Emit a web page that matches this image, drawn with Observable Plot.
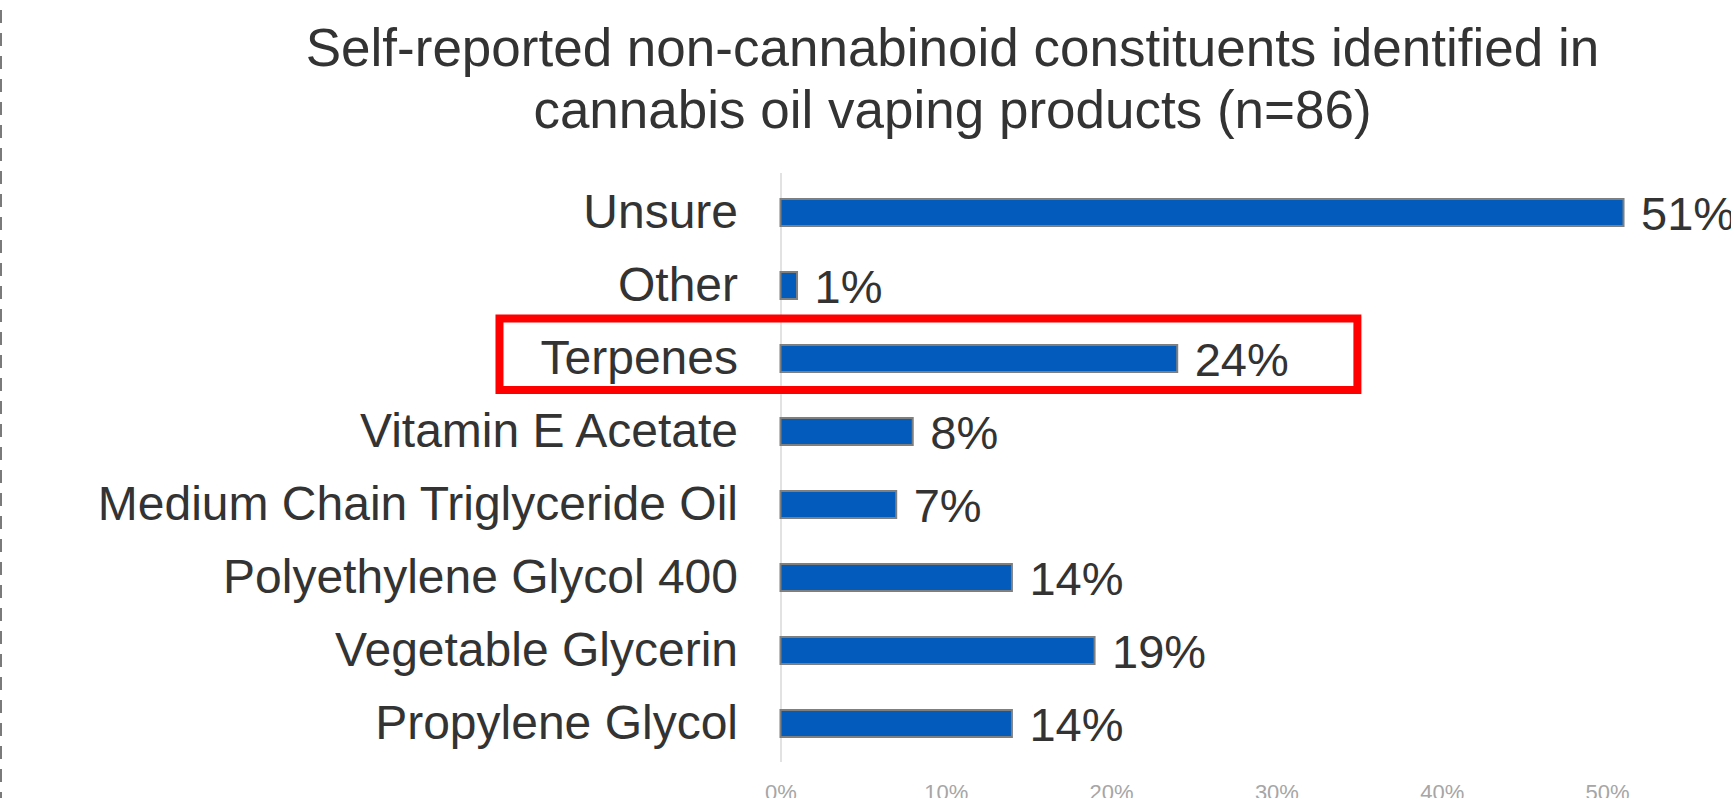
<!DOCTYPE html>
<html>
<head>
<meta charset="utf-8">
<script src="https://cdn.jsdelivr.net/npm/d3@7"></script>
<script src="https://cdn.jsdelivr.net/npm/@observablehq/plot@0.6"></script>
<style>
  html, body { margin: 0; padding: 0; background: #fff; }
  #wrap { position: relative; width: 1731px; height: 798px; overflow: hidden; font-family: "Liberation Sans", Arial, sans-serif; }
  #title { position: absolute; left: 0; top: 17px; width: 1905px; text-align: center; font-size: 53px; line-height: 62px; color: #333333; }
  #dash { position: absolute; left: 0; top: 0; width: 2px; height: 798px;
          background: repeating-linear-gradient(to bottom, transparent 0px, transparent 10px, #7a7a7a 10px, #7a7a7a 23px); }
  #chart { position: absolute; left: 0; top: 0; }
</style>
</head>
<body>
<div id="wrap">
  <div id="chart"></div>
  <div id="title">Self-reported non-cannabinoid constituents identified in<br>cannabis oil vaping products (n=86)</div>
  <div id="dash"></div>
</div>
<script>
const categories = ["Unsure", "Other", "Terpenes", "Vitamin E Acetate", "Medium Chain Triglyceride Oil", "Polyethylene Glycol 400", "Vegetable Glycerin", "Propylene Glycol"];
const values = [0.51, 0.01, 0.24, 0.08, 0.07, 0.14, 0.19, 0.14];
const tickValues = [0, 0.1, 0.2, 0.3, 0.4, 0.5];
const highlighted = ["Terpenes"];
const highlightSpan = [-0.17, 0.349];

const data = categories.map((c, i) => ({category: c, value: values[i]}));
const fmt = d3.format(".0%");

const chart = Plot.plot({
  width: 1731,
  height: 798,
  marginTop: 173,
  marginBottom: 36,
  marginLeft: 780.5,
  marginRight: 0,
  style: {fontFamily: "Liberation Sans, Arial, sans-serif", background: "transparent"},
  x: {domain: [0, 0.5], range: [780.5, 1607]},
  y: {domain: categories, range: [161.5, 775], paddingInner: 0.63, paddingOuter: 0.5},
  marks: [
    Plot.ruleX([0], {stroke: "#d9d9d9", strokeWidth: 1.5}),
    Plot.barX(data, {y: "category", x: "value", fill: "#035BBB", stroke: "#7f7f7f", strokeWidth: 2}),
    Plot.text(data, {y: "category", x: "value", text: d => fmt(d.value), textAnchor: "start", dx: 17, dy: 2, fontSize: 47, fill: "#333333"}),
    Plot.axisY({tickSize: 0, tickPadding: 43, fontSize: 48, fill: "#333333", label: null}),
    Plot.axisX({ticks: tickValues, tickFormat: fmt, tickSize: 0, tickPadding: 22, fontSize: 22, fill: "#a6a6a6", label: null}),
    Plot.barX(highlighted, {y: d => d, x1: highlightSpan[0], x2: highlightSpan[1], fill: "none", stroke: "#ff0000", strokeWidth: 8, insetTop: -26.5, insetBottom: -18})
  ]
});
document.getElementById("chart").appendChild(chart);
</script>
</body>
</html>
